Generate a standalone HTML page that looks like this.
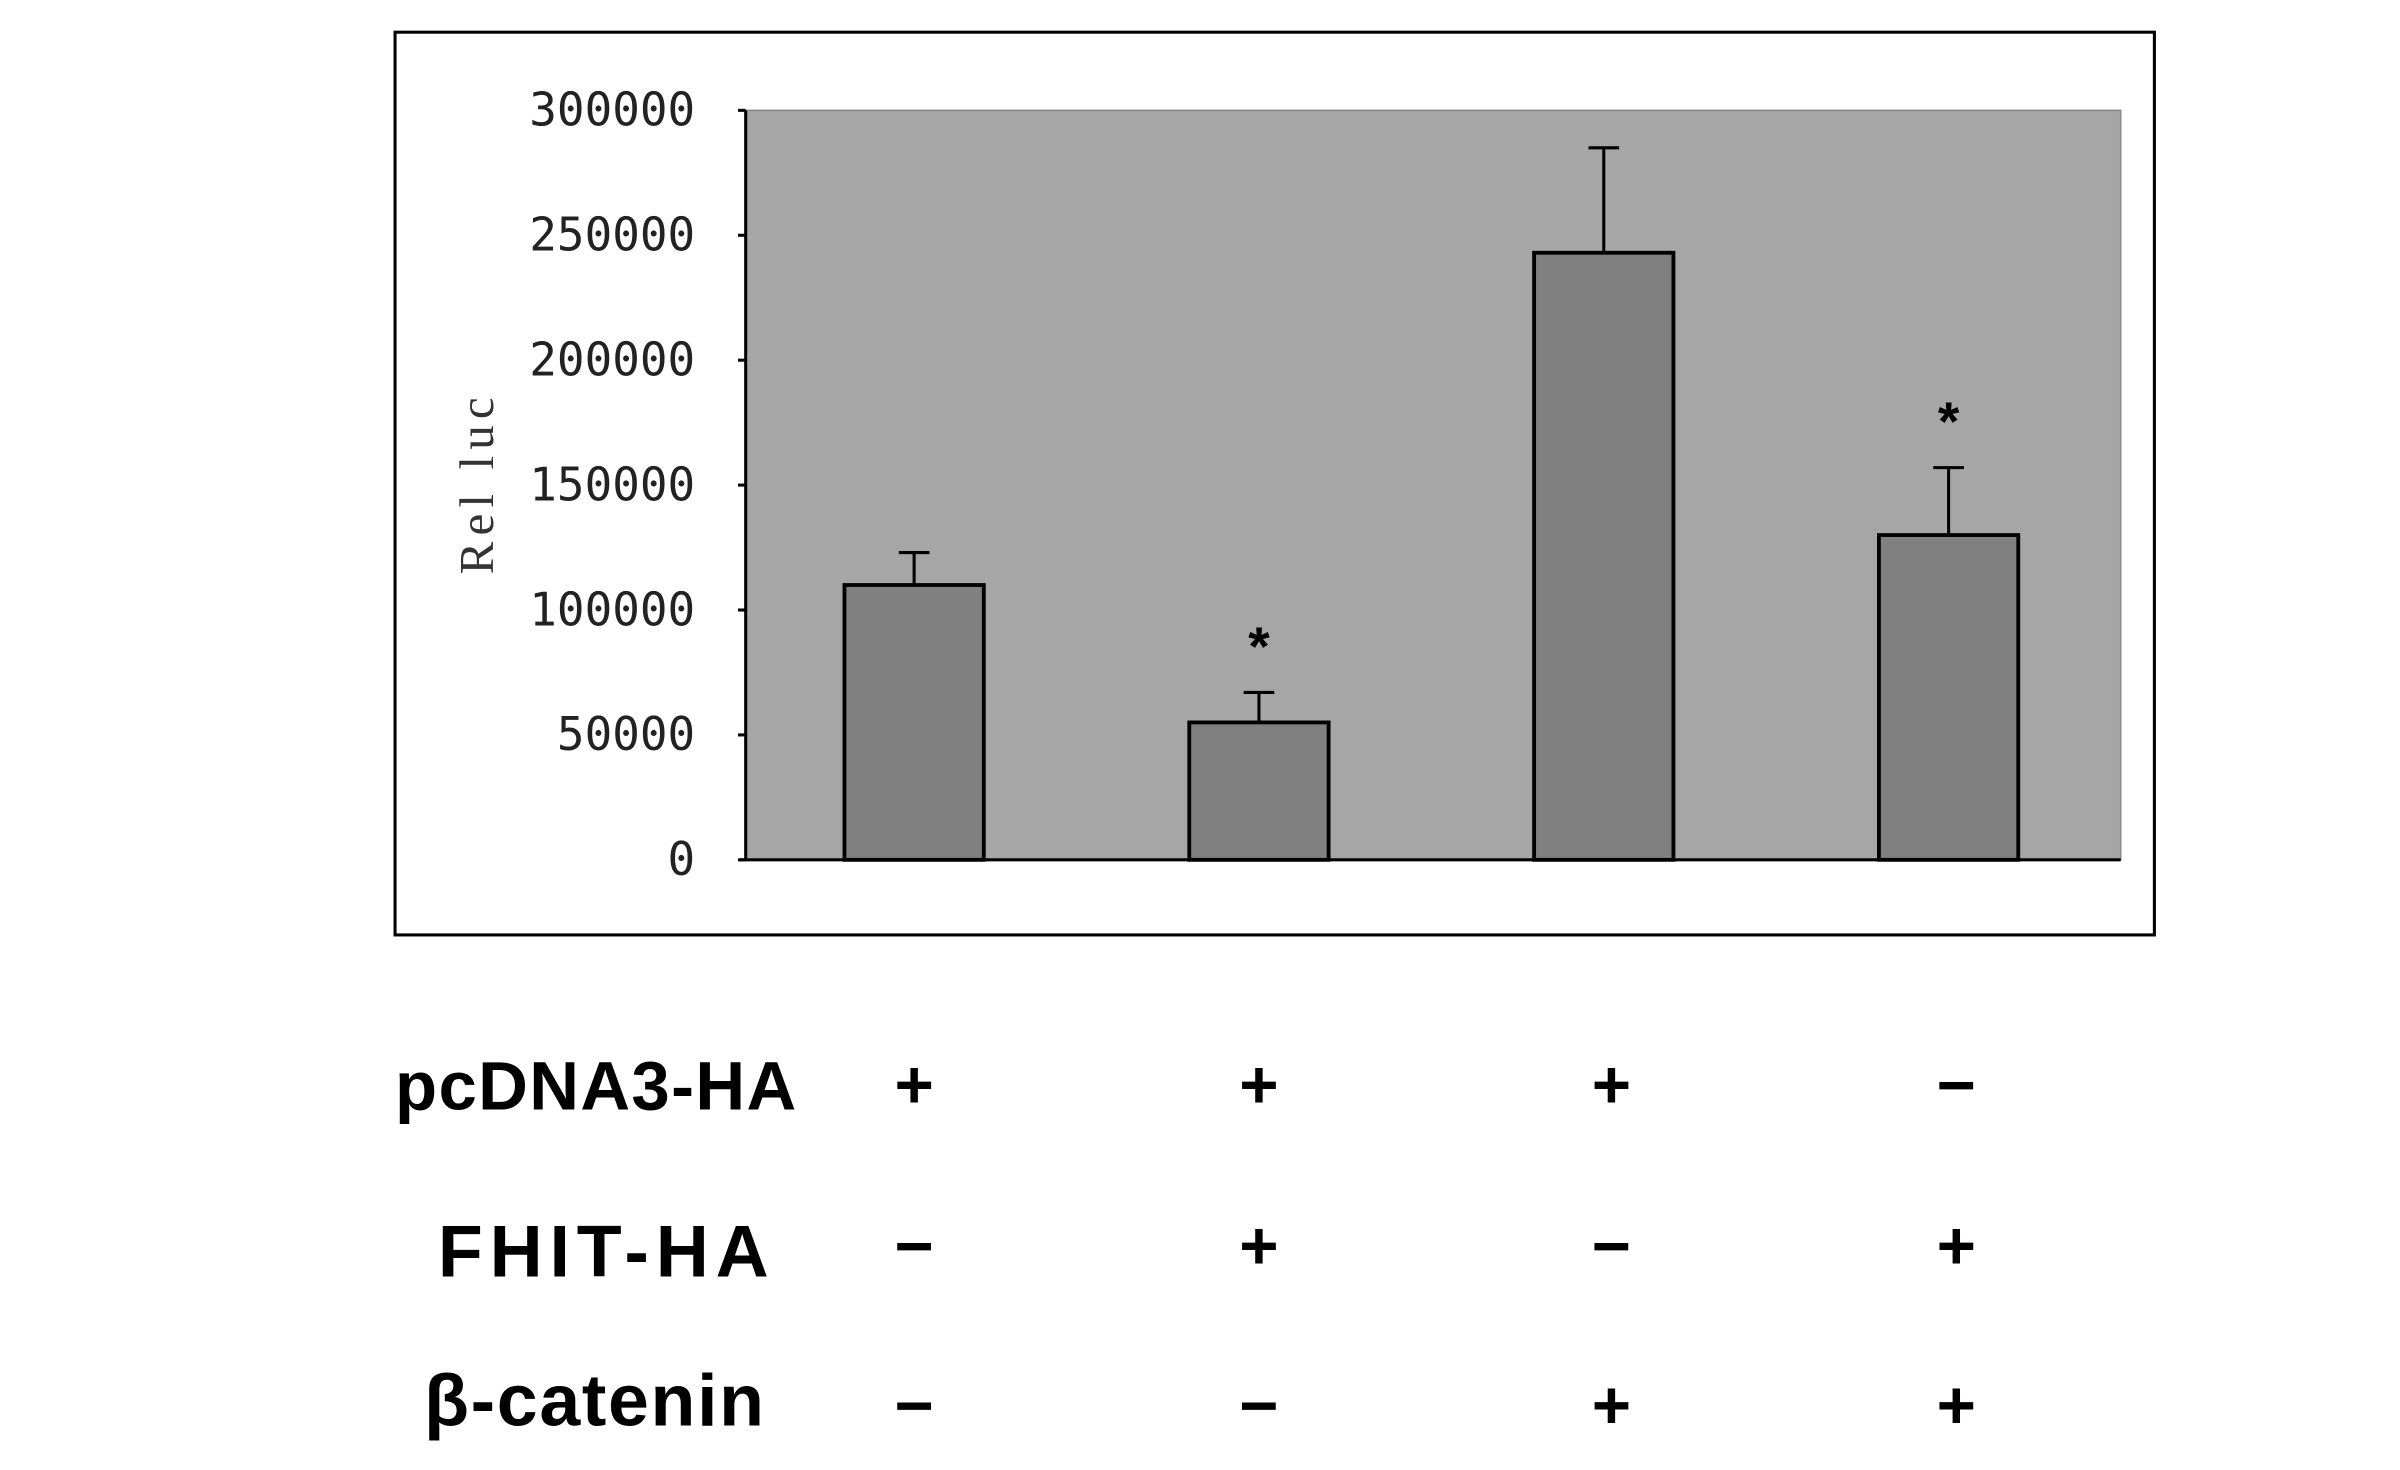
<!DOCTYPE html>
<html><head><meta charset="utf-8"><style>html,body{margin:0;padding:0;background:#fff}svg{display:block}</style></head>
<body>
<svg id="chart" width="2400" height="1470" viewBox="0 0 1567.4 959.1" preserveAspectRatio="none" xmlns="http://www.w3.org/2000/svg">
<rect x="258" y="21" width="1149" height="589" fill="#fff" stroke="#000" stroke-width="2"/>
<rect x="487" y="72" width="898" height="489" fill="#a6a6a6" stroke="#888" stroke-width="1"/>
<g id="bars"></g>
<line x1="487" y1="72" x2="487" y2="561" stroke="#000" stroke-width="2"/>
<line x1="483" y1="561" x2="1385" y2="561" stroke="#000" stroke-width="2"/>
<g id="ticks"></g>
<text transform="translate(322,315) rotate(-90)" text-anchor="middle" font-family="Liberation Serif, serif" font-size="32" letter-spacing="4" fill="#333">Rel luc</text>
<g font-family="Liberation Sans, sans-serif" fill="#000">
<text x="258" y="724" font-size="45" font-weight="bold" textLength="262">pcDNA3-HA</text>
<text x="286" y="833" font-size="48" font-weight="bold" textLength="216">FHIT-HA</text>
<text x="277" y="930" font-size="48" font-weight="bold" textLength="222">β-catenin</text>
</g>
<g id="signs" font-family="Liberation Sans, sans-serif" font-weight="bold" font-size="44" text-anchor="middle"></g>
</svg>
<script>
const categories = ["ctrl", "FHIT", "b-catenin", "FHIT+b-catenin"];
const values = [110000, 55000, 243000, 130000];
const errors = [13000, 12000, 42000, 27000];
const starred = [false, true, false, true];
const yTicks = [0, 50000, 100000, 150000, 200000, 250000, 300000];
const rowPcdna = ["+", "+", "+", "−"];
const rowFhit = ["−", "+", "−", "+"];
const rowCatenin = ["−", "−", "+", "+"];
const NS = "http://www.w3.org/2000/svg";
const y = v => 561 - v / 300000 * 489;
const xc = i => 597 + i * 225.2;
const bw = 91;
const bars = document.getElementById('bars');
function mk(tag, attrs, parent) { const e = document.createElementNS(NS, tag); for (const k in attrs) e.setAttribute(k, attrs[k]); parent.appendChild(e); return e; }
values.forEach((v, i) => {
  const top = y(v + errors[i]);
  const el = mk('line', {x1: xc(i), x2: xc(i), y1: y(v), y2: top, stroke: '#000', 'stroke-width': 2}, bars);
  
  
  const cap = mk('line', {x1: xc(i) - 10, x2: xc(i) + 10, y1: top, y2: top, stroke: '#000', 'stroke-width': 2}, bars);
  
  
  const r = mk('rect', {x: xc(i) - bw / 2, y: y(v), width: bw, height: y(0) - y(v), fill: '#808080', stroke: '#000', 'stroke-width': 2.5}, bars);
  
  
  if (starred[i]) {
    const s = mk('text', {x: xc(i), y: top - 18, 'text-anchor': 'middle', 'font-family': 'Liberation Sans, sans-serif', 'font-weight': 'bold', 'font-size': 36}, bars);
    s.textContent = '*';
    
    
  }
});
const ticks = document.getElementById('ticks');
yTicks.forEach(t => {
  const l = mk('line', {x1: 482, x2: 487, y1: y(t), y2: y(t), stroke: '#000', 'stroke-width': 2}, ticks);
  
  
  const tx = mk('text', {x: 454, y: y(t) + 10, 'text-anchor': 'end', 'font-family': 'DejaVu Sans Mono, Liberation Mono, monospace', 'font-size': 30, fill: '#222'}, ticks);
  tx.textContent = String(t);
  
  
});
const signs = document.getElementById('signs');
[[rowPcdna, 723, 'pcdna3-ha'], [rowFhit, 828, 'fhit-ha'], [rowCatenin, 932, 'beta-catenin']].forEach(([row, yy, nm]) => {
  row.forEach((s, i) => {
    const t = mk('text', {x: xc(i) + (i >= 2 ? 5 : 0), y: yy}, signs);
    t.textContent = s;
    
    
  });
});
</script>
</body></html>
